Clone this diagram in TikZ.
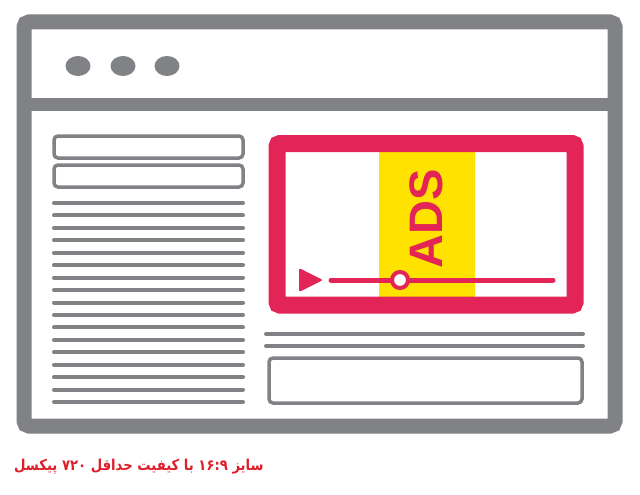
\documentclass[tikz,border=0pt]{standalone}
\usepackage{fontspec}
\setmainfont{Liberation Sans}
\newfontfamily\arabicfont[Script=Arabic]{DejaVu Sans}
\TeXXeTstate=1
\usetikzlibrary{shapes.geometric}

\definecolor{framegray}{RGB}{128,130,133}
\definecolor{adred}{RGB}{226,36,86}
\definecolor{adyellow}{RGB}{255,226,0}
\definecolor{captionred}{RGB}{222,30,40}

\tikzset{
  frameline/.style={draw=framegray, line width=15pt, rounded corners=5pt},
  textline/.style={draw=framegray, line width=4pt, line cap=round},
  fieldbox/.style={draw=framegray, line width=3.5pt, rounded corners=4pt},
  winbutton/.style={ellipse, fill=framegray, minimum width=25pt, minimum height=20pt, inner sep=0pt},
}

\begin{document}
\begin{tikzpicture}[x=1pt, y=-1pt]
\useasboundingbox (0,0) rectangle (640,495);

% browser window
\draw[frameline] (24,22) rectangle (615,426);
\draw[draw=framegray, line width=13pt] (17,104) -- (622,104);
\node[winbutton] (btnA) at (78,66){};
\node[winbutton] (btnB) at (123,66){};
\node[winbutton] (btnC) at (167,66){};

% left column
\draw[fieldbox] (54,136) rectangle (243,158);
\draw[fieldbox] (54,165) rectangle (243,187);
\foreach \i in {0,...,16}
  \draw[textline] (54,203+12.44*\i) -- (243,203+12.44*\i);

% video player
\fill[adyellow] (379,150) rectangle (475,299);
\draw[draw=adred, line width=17pt, rounded corners=3pt] (277,143.5) rectangle (575,305);
\node[rotate=90, text=adred, font=\fontsize{47}{50}\selectfont\bfseries] (ads) at (426,219){ADS};
\fill[adred, rounded corners=1.5pt] (299,268) -- (323,280) -- (299,292) -- cycle;
\coordinate (slidestart) at (331,280);
\coordinate (slideend) at (553,280);
\draw[adred, line width=5pt, line cap=round] (slidestart) -- (slideend);
\node[circle, draw=adred, fill=white, line width=4pt, minimum size=16pt, inner sep=0pt] (knob) at (400,280){};

% right column below the player
\draw[textline] (266,334) -- (583,334);
\draw[textline] (266,346) -- (583,346);
\draw[fieldbox] (269,358) rectangle (582,403);

% caption
\node[anchor=west, inner sep=0pt, xscale=0.88, text=captionred, font=\arabicfont\bfseries\fontsize{15}{18}\selectfont] (caption) at (14,467)
  {\beginR سایز \beginL ۱۶:۹\endL{} با کیفیت حداقل \beginL ۷۲۰\endL{} پیکسل\endR};
\end{tikzpicture}
\end{document}
